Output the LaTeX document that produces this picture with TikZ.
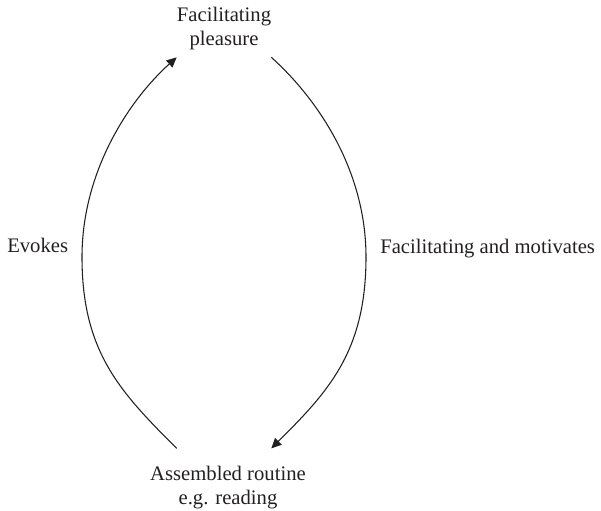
\documentclass[tikz,border=0pt]{standalone}
\usepackage{fontspec}
\setmainfont{Liberation Serif}
\usetikzlibrary{arrows.meta, positioning}
\definecolor{ink}{HTML}{231F20}
\tikzset{
  font=\fontsize{15.5}{18.5}\selectfont,
  >={Triangle[length=7.5pt, width=7pt]},
  %
  stage/.style={align=center, text=ink, inner xsep=0pt, inner ysep=5pt},
  flow/.style={draw=ink, line width=0.8pt, ->},
  lbl/.style={text=ink, inner sep=0pt},
}

\begin{document}
\begin{tikzpicture}[x=0.75pt, y=0.75pt]
  \useasboundingbox (0,0) rectangle (601,511);

  \node[stage, anchor=base] (pleasure) at (224,465) {Facilitating\\pleasure};
  \node[stage, anchor=base, inner ysep=13pt] (routine) at (228,6) {Assembled routine\\e.g. reading};

  \node[lbl, anchor=base west] (evokes)    at (7,258)   {Evokes};
  \node[lbl, anchor=base west] (motivates) at (380,257) {Facilitating and motivates};

  % widest points of the loop
  \coordinate (evokesmid)    at (82,254);
  \coordinate (motivatesmid) at (366,254);

  \draw[flow] (pleasure.south west |- routine.north)
    .. controls +(135:80) and +(270:95) .. (evokesmid)
    .. controls +(90:85) and +(222:65) .. (pleasure.south west);
  \draw[flow] (pleasure.south east)
    .. controls +(-42:65) and +(90:85) .. (motivatesmid)
    .. controls +(270:95) and +(45:80) .. (pleasure.south east |- routine.north);
\end{tikzpicture}
\end{document}
